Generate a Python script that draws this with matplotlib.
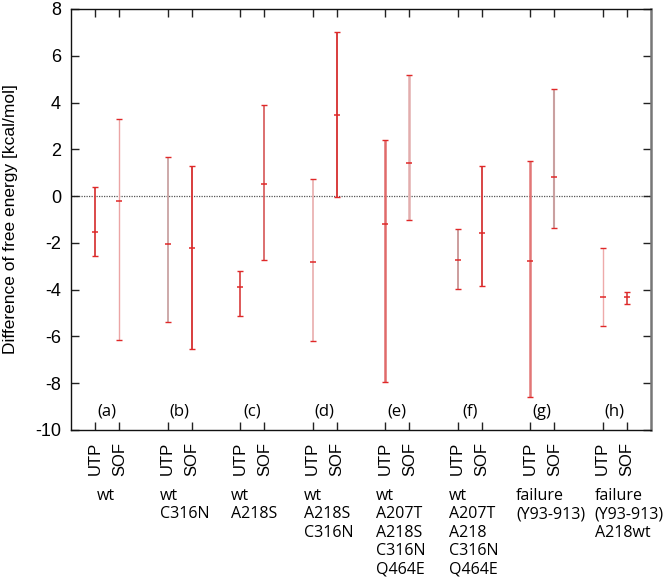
#!/usr/bin/env python3
"""Free energy differences for UTP / SOF per mutant (error bar chart)."""

import matplotlib
matplotlib.use('Agg')
import matplotlib.pyplot as plt
import matplotlib.transforms as mtransforms

plt.rcParams['font.family'] = ['Liberation Sans', 'DejaVu Sans']
plt.rcParams['axes.unicode_minus'] = False

# data: centre value and lower / upper end of each bar
group_tags = ['(a)', '(b)', '(c)', '(d)', '(e)', '(f)', '(g)', '(h)']
group_names = [
    'wt',
    'wt\nC316N',
    'wt\nA218S',
    'wt\nA218S\nC316N',
    'wt\nA207T\nA218S\nC316N\nQ464E',
    'wt\nA207T\nA218\nC316N\nQ464E',
    'failure\n(Y93-913)',
    'failure\n(Y93-913)\nA218wt',
]
ligands = ['UTP', 'SOF']

utp_mid = [-1.55, -2.05, -3.90, -2.80, -1.21, -2.73, -2.79, -4.30]
utp_low = [-2.58, -5.40, -5.11, -6.18, -7.96, -3.98, -8.58, -5.54]
utp_high = [0.39, 1.65, -3.19, 0.74, 2.40, -1.42, 1.50, -2.20]

sof_mid = [-0.21, -2.22, 0.50, 3.45, 1.43, -1.59, 0.82, -4.32]
sof_low = [-6.17, -6.52, -2.72, -0.03, -1.02, -3.84, -1.36, -4.63]
sof_high = [3.29, 1.27, 3.91, 7.03, 5.16, 1.29, 4.58, -4.12]

# line colour / width of each vertical bar (UTP, SOF per group)
utp_colors = ['#d83c3c', '#c9a3a3', '#d83c3c', '#ebb3b3', '#e06a6a', '#c48c8c', '#e27676', '#eeaaaa']
sof_colors = ['#eba5a5', '#d83c3c', '#d65656', '#d83c3c', '#e2adad', '#d84444', '#caa0a0', '#d83c3c']
utp_widths = [1.3, 1.3, 1.2, 1.3, 1.8, 1.2, 1.8, 1.0]
sof_widths = [1.0, 1.4, 1.2, 1.4, 1.8, 1.4, 1.5, 1.2]
CAP_RED = '#e02828'

fig = plt.figure(figsize=(6.66, 5.87), dpi=100)
ax = fig.add_axes([0.1066, 0.2675, 0.8709, 0.7172])

x_utp = [3 * i + 1 for i in range(len(group_tags))]
x_sof = [3 * i + 2 for i in range(len(group_tags))]

ax.axhline(0, color='#555555', lw=0.9, ls=(0, (1, 1)), zorder=1)

for xs, mid, low, high, cols, lws in [
        (x_utp, utp_mid, utp_low, utp_high, utp_colors, utp_widths),
        (x_sof, sof_mid, sof_low, sof_high, sof_colors, sof_widths)]:
    for x, m, lo, hi, c, lw in zip(xs, mid, low, high, cols, lws):
        ax.vlines(x, lo, hi, color=c, lw=lw, zorder=2)
        ax.errorbar([x], [m], yerr=[[m - lo], [hi - m]], fmt='none',
                    ecolor=CAP_RED, elinewidth=0, capsize=2.3, capthick=1.0,
                    zorder=3)
        ax.plot([x], [m], marker='_', ms=5, mew=1.1, color=CAP_RED, zorder=3)

ax.set_xlim(0, 24)
ax.set_ylim(-10, 8)
ax.set_yticks(range(-10, 9, 2))

ticks = []
labels = []
for a, b in zip(x_utp, x_sof):
    ticks += [a, b]
    labels += ligands
ax.set_xticks(ticks)
ax.set_xticklabels(labels, rotation=90, fontsize=12)
ax.tick_params(axis='x', direction='in', length=6, width=1.0, pad=8.6,
               top=True, color='#222222')
ax.tick_params(axis='y', direction='in', length=6, width=1.0, pad=7.2,
               right=True, labelsize=13, color='#222222')

for side in ['left', 'bottom', 'top']:
    ax.spines[side].set_linewidth(1.0)
    ax.spines[side].set_color('#111111')
ax.spines['right'].set_linewidth(1.8)
ax.spines['right'].set_color('#777777')

ax.set_ylabel('Difference of free energy [kcal/mol]', fontsize=12.5, labelpad=12)

# group tags inside the axes, group descriptions below the tick labels
for a, b, tag in zip(x_utp, x_sof, group_tags):
    ax.text((a + b) / 2, -9.23, tag, ha='center', va='center', fontsize=12,
            family=['Open Sans', 'DejaVu Sans'])

trans = mtransforms.blended_transform_factory(ax.transData, ax.transAxes)
name_shift = [0.08, -0.33, -0.37, -0.37, -0.37, -0.37, -0.58, -0.33]
for a, dx, name in zip(x_utp, name_shift, group_names):
    ax.text(a + dx, -0.138, name, transform=trans, ha='left', va='top',
            fontsize=11.5, linespacing=1.2,
            family=['Open Sans', 'DejaVu Sans'])

plt.savefig('out.png', dpi=100)
plt.close()
print("Created: out.png")
